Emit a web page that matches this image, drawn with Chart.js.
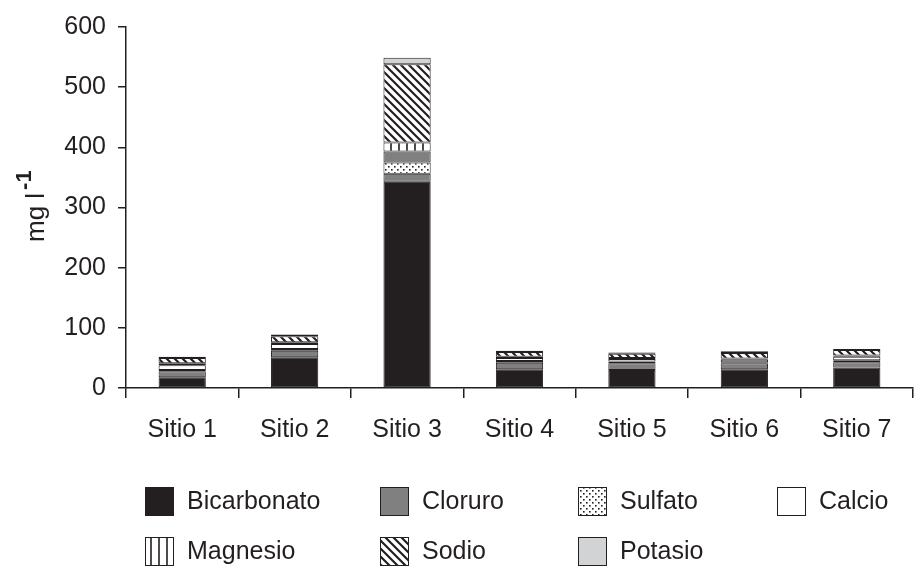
<!DOCTYPE html>
<html>
<head>
<meta charset="utf-8">
<script src="https://cdn.jsdelivr.net/npm/chart.js@4/dist/chart.umd.min.js"></script>
<style>
  html, body { margin: 0; padding: 0; background: #fff; }
  #wrap { width: 917px; height: 566px; }
</style>
</head>
<body>
<div id="wrap"><canvas id="chart" width="917" height="566"></canvas></div>
<script>
const sitios = ["Sitio 1", "Sitio 2", "Sitio 3", "Sitio 4", "Sitio 5", "Sitio 6", "Sitio 7"];

const bicarbonato = [18, 51, 343, 31, 30, 31, 34];
const cloruro = [10, 11, 13, 11, 11, 10, 9];
const sulfato = [2, 3, 19, 3, 3, 2, 3];
const calcio = [8, 8, 18, 5, 4, 4, 6];
const magnesio = [3, 3, 15, 2, 2, 2, 2];
const sodio = [9, 10, 130, 8, 7, 9, 9];
const potasio = [2, 3, 11, 2, 2, 3, 2];

const yTicks = [0, 100, 200, 300, 400, 500, 600];

const INK = "#231f20";
const FONT = "'Liberation Sans', Arial, sans-serif";

function makePattern(draw, size) {
    const c = document.createElement("canvas");
    c.width = size;
    c.height = size;
    const g = c.getContext("2d");
    g.fillStyle = "#fff";
    g.fillRect(0, 0, size, size);
    g.strokeStyle = INK;
    g.fillStyle = INK;
    draw(g, size);
    return g.createPattern(c, "repeat");
}

const dotPattern = makePattern((g) => {
    g.fillRect(1, 1, 1.6, 1.6);
    g.fillRect(4, 4, 1.6, 1.6);
}, 6);

const vlinePattern = makePattern((g) => {
    g.lineWidth = 1.6;
    g.beginPath();
    g.moveTo(7, 0);
    g.lineTo(7, 8);
    g.stroke();
}, 8);

const diagPattern = makePattern((g, s) => {
    g.lineWidth = 2.2;
    g.beginPath();
    g.moveTo(-1, -1);
    g.lineTo(s + 1, s + 1);
    g.moveTo(-1, s - 1);
    g.lineTo(1, s + 1);
    g.moveTo(s - 1, -1);
    g.lineTo(s + 1, 1);
    g.stroke();
}, 8);

// calcio in Sitio 3 is printed grey in the figure
const calcioColors = sitios.map((s, i) => (i === 2 ? "#808080" : "#ffffff"));

const series = [
    { label: "Bicarbonato", data: bicarbonato, fill: INK, legendFill: INK },
    { label: "Cloruro", data: cloruro, fill: "#808080", legendFill: "#808080" },
    { label: "Sulfato", data: sulfato, fill: dotPattern, legendFill: dotPattern },
    { label: "Calcio", data: calcio, fill: calcioColors, legendFill: "#ffffff" },
    { label: "Magnesio", data: magnesio, fill: vlinePattern, legendFill: vlinePattern },
    { label: "Sodio", data: sodio, fill: diagPattern, legendFill: diagPattern },
    { label: "Potasio", data: potasio, fill: "#d1d3d4", legendFill: "#d1d3d4" },
];

const legendPlugin = {
    id: "gridLegend",
    afterDraw(chart) {
        const ctx = chart.ctx;
        const cols = [145, 380, 578, 777];
        const rows = [487, 537];
        ctx.save();
        ctx.font = "25px " + FONT;
        ctx.textBaseline = "middle";
        series.forEach((s, i) => {
            const x = cols[i % 4];
            const y = rows[Math.floor(i / 4)];
            ctx.fillStyle = s.legendFill;
            ctx.fillRect(x, y, 29, 29);
            ctx.strokeStyle = INK;
            ctx.lineWidth = 1;
            ctx.strokeRect(x + 0.5, y + 0.5, 28, 28);
            ctx.fillStyle = INK;
            ctx.fillText(s.label, x + 42, y + 15);
        });
        ctx.restore();
    },
};

const yLabelPlugin = {
    id: "yLabel",
    afterDraw(chart) {
        const ctx = chart.ctx;
        ctx.save();
        ctx.translate(44, 242);
        ctx.rotate(-Math.PI / 2);
        ctx.fillStyle = INK;
        ctx.textBaseline = "alphabetic";
        ctx.font = "26px " + FONT;
        ctx.fillText("mg l", 0, 0);
        const w = ctx.measureText("mg l").width;
        ctx.font = "bold 22px " + FONT;
        ctx.fillText("-1", w + 3, -13);
        ctx.restore();
    },
};

const config = {
    type: "bar",
    data: {
        labels: sitios,
        datasets: series.map((s) => ({
            label: s.label,
            data: s.data,
            backgroundColor: s.fill,
            borderColor: INK,
            borderWidth: 1,
            borderSkipped: false,
            barPercentage: 0.42,
            categoryPercentage: 1,
        })),
    },
    options: {
        responsive: false,
        animation: false,
        layout: {
            padding: { top: 22, right: 4, bottom: 108, left: 0 },
        },
        scales: {
            x: {
                stacked: true,
                afterFit: (s) => {
                    s.height = 70;
                },
                border: { display: true, color: INK, width: 1.5 },
                grid: {
                    display: true,
                    offset: true,
                    drawOnChartArea: false,
                    drawTicks: true,
                    tickLength: 10,
                    color: INK,
                    lineWidth: 1.5,
                },
                ticks: {
                    color: INK,
                    padding: 17,
                    font: { family: FONT, size: 25 },
                },
            },
            y: {
                stacked: true,
                min: 0,
                max: 600,
                afterFit: (s) => {
                    s.width = 126;
                },
                afterBuildTicks: (s) => {
                    s.ticks = yTicks.map((v) => ({ value: v }));
                },
                border: { display: true, color: INK, width: 1.5 },
                grid: {
                    display: true,
                    drawOnChartArea: false,
                    drawTicks: true,
                    tickLength: 8,
                    color: INK,
                    lineWidth: 1.5,
                },
                ticks: {
                    color: INK,
                    padding: 12,
                    font: { family: FONT, size: 25 },
                },
            },
        },
        plugins: {
            legend: { display: false },
            tooltip: { enabled: false },
        },
    },
    plugins: [legendPlugin, yLabelPlugin],
};

new Chart(document.getElementById("chart"), config);
</script>
</body>
</html>
